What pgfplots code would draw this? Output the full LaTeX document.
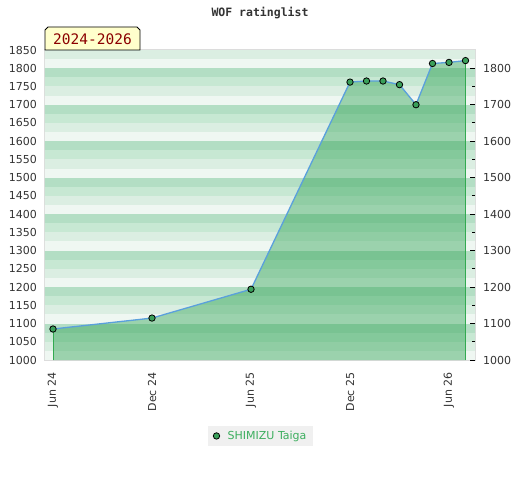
\documentclass[border=0pt]{standalone}
\usepackage{pgfplots}
\pgfplotsset{compat=1.18}
\usepackage{fontspec}
\setmainfont{DejaVu Sans}
\newfontfamily\monofont{DejaVu Sans Mono}
\definecolor{bgA}{RGB}{179,222,196}
\definecolor{bgB}{RGB}{199,232,211}
\definecolor{bgC}{RGB}{219,238,226}
\definecolor{bgD}{RGB}{239,247,242}
\definecolor{fillg}{RGB}{41,160,79}
\definecolor{edgeg}{RGB}{50,170,80}
\definecolor{lineb}{RGB}{90,160,220}
\definecolor{markg}{RGB}{58,160,90}
\definecolor{legtext}{RGB}{60,174,94}
\definecolor{framegray}{RGB}{220,220,220}
\definecolor{ticktext}{RGB}{51,51,51}
\definecolor{boxyellow}{RGB}{255,255,204}
\definecolor{boxred}{RGB}{139,0,0}
\begin{document}
\begin{tikzpicture}
\path[use as bounding box] (0,0) rectangle (520pt,480pt);
\begin{axis}[
  at={(45pt,120pt)}, anchor=south west, scale only axis,
  width=430pt, height=310pt,
  xmin=-0.485, xmax=25.576, ymin=1000, ymax=1850,
  axis line style={draw=framegray, line width=1.5pt},
  ytick={1000,1050,...,1850},
  xtick={0,6,12,18,24},
  xticklabels={Jun 24, Dec 24, Jun 25, Dec 25, Jun 26},
  major tick length=0pt,
  tick label style={font=\fontsize{11}{13}\selectfont, text=ticktext},
  x tick label style={rotate=90, anchor=east},
  xticklabel shift=9pt,
  y tick label style={xshift=-4.5pt},
  /pgf/number format/assume math mode=true,
  /pgf/number format/1000 sep={},
  legend style={at={(0.502,-0.245)}, anchor=center, fill={rgb,255:red,240;green,240;blue,240}, draw=none,
    text=legtext, font=\fontsize{11}{13}\selectfont, inner xsep=5pt, inner ysep=3pt},
  clip=true,
]
\pgfplotsinvokeforeach{1000,1100,1200,1300,1400,1500,1600,1700,1800}{
  \fill[bgD] (axis cs:-2,#1) rectangle (axis cs:30,#1+25);
  \fill[bgC] (axis cs:-2,#1+25) rectangle (axis cs:30,#1+50);
  \fill[bgB] (axis cs:-2,#1+50) rectangle (axis cs:30,#1+75);
  \fill[bgA] (axis cs:-2,#1+75) rectangle (axis cs:30,#1+100);
}
\addplot[fill=fillg, fill opacity=0.42, draw=none, forget plot] coordinates {
(0,1085)(6,1115)(12,1194)(18,1762)(19,1765)(20,1765)(21,1755)(22,1700)(23,1813)(24,1816)(25,1821)
} \closedcycle;
\addplot[edgeg, line width=1pt, forget plot] coordinates {(0,1000)(0,1085)};
\addplot[edgeg, line width=1pt, forget plot] coordinates {(25,1000)(25,1821)};
\addplot[lineb, line width=1.3pt, forget plot] coordinates {
(0,1085)(6,1115)(12,1194)(18,1762)(19,1765)(20,1765)(21,1755)(22,1700)(23,1813)(24,1816)(25,1821)
};
\addplot[only marks, mark=*, mark size=3.2pt, mark options={fill=markg, draw=black, line width=0.8pt}] coordinates {
(0,1085)(6,1115)(12,1194)(18,1762)(19,1765)(20,1765)(21,1755)(22,1700)(23,1813)(24,1816)(25,1821)
};
\addlegendentry{\hspace{6pt}SHIMIZU Taiga\hspace{3pt}}
\end{axis}
\begin{axis}[
  at={(45pt,120pt)}, anchor=south west, scale only axis,
  width=430pt, height=310pt,
  xmin=-0.485, xmax=25.576, ymin=1000, ymax=1850,
  axis x line=none, axis y line*=right,
  axis line style={draw=none},
  ytick={1000,1100,...,1800},
  minor ytick={1050,1150,...,1750},
  tick align=inside,
  major tick length=5pt, minor tick length=2.7pt,
  tick style={black, line width=1pt},
  tick label style={font=\fontsize{11}{13}\selectfont, text=ticktext},
  y tick label style={xshift=4.5pt},
  /pgf/number format/assume math mode=true,
  /pgf/number format/1000 sep={},
]
\addplot[draw=none] coordinates {(0,1000)};
\end{axis}
\node[font=\monofont\bfseries\fontsize{11.5}{13}\selectfont, text=ticktext] at (260pt,467pt) {WOF ratinglist};
\filldraw[fill=boxyellow, draw=black, line width=0.8pt] (45pt,430pt) -- (140pt,430pt) -- (140pt,450pt) -- (137pt,453pt) -- (48pt,453pt) -- (45pt,450pt) -- cycle;
\node[font=\monofont\fontsize{14.5}{16}\selectfont, text=boxred] at (92.5pt,441pt) {2024-2026};
\end{tikzpicture}
\end{document}
